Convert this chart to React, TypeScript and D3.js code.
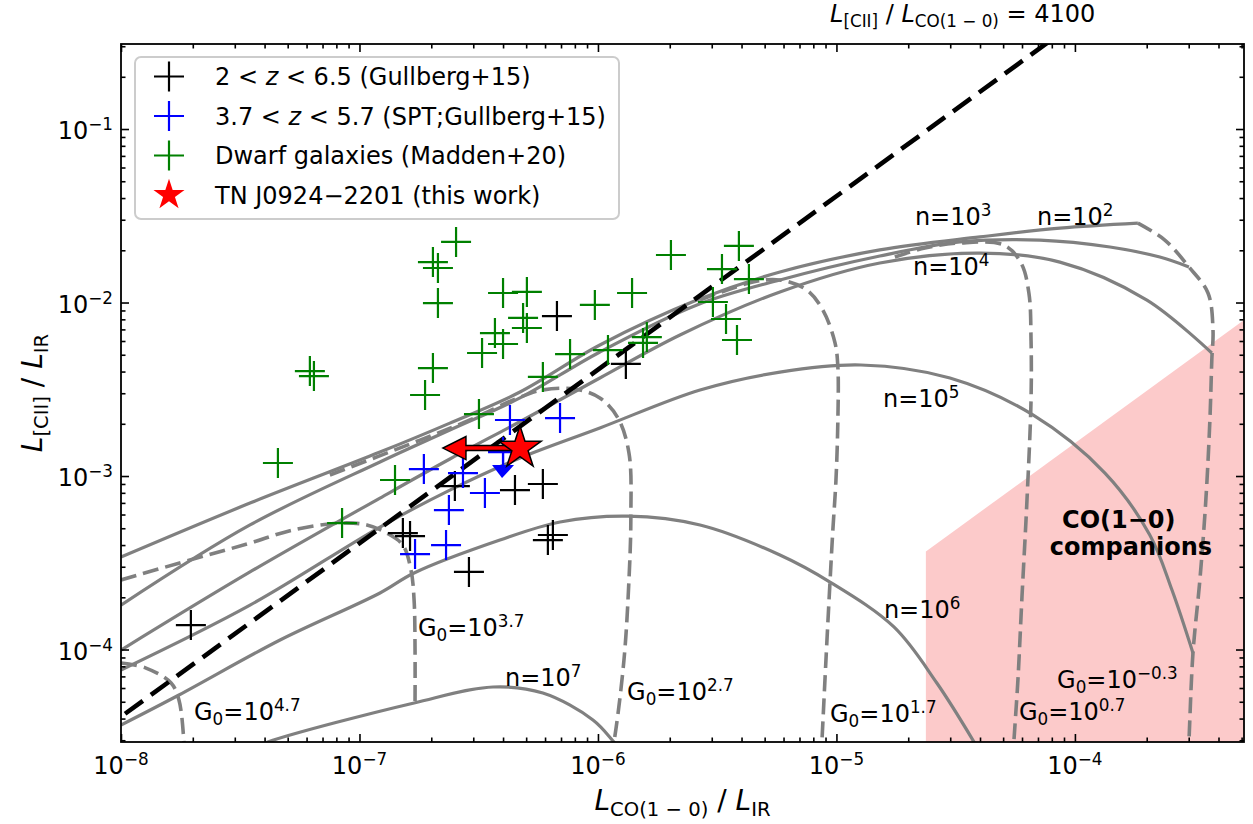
import React, { useEffect, useRef } from "react";
import * as d3 from "d3";

// all values are log10 : [ L_CO(1-0)/L_IR , L_[CII]/L_IR ]
type Pt = [number, number];

const gullberg: Pt[] = [
  [-7.707, -3.859], [-6.818, -3.329], [-6.788, -3.346], [-6.6, -3.058],
  [-6.348, -3.081], [-6.231, -3.046], [-6.541, -3.553], [-6.21, -3.369],
  [-6.189, -3.34], [-6.172, -2.078], [-5.883, -2.354],
];

const spt: Pt[] = [
  [-6.369, -2.677], [-6.159, -2.666], [-6.73, -2.96], [-6.566, -2.983],
  [-6.474, -3.098], [-6.625, -3.196], [-6.637, -3.398], [-6.767, -3.45],
];
const sptUpperLimits: Pt[] = [[-6.398, -2.862]];

const dwarfs: Pt[] = [
  [-7.342, -2.925], [-7.208, -2.395], [-7.191, -2.424], [-6.595, -1.651],
  [-6.692, -1.767], [-6.671, -1.801], [-6.671, -2.003], [-6.692, -2.378],
  [-6.725, -2.533], [-6.432, -2.176], [-6.398, -2.239], [-6.486, -2.291],
  [-6.499, -2.643], [-6.851, -3.023], [-7.073, -3.271], [-6.398, -1.945],
  [-6.298, -1.939], [-6.314, -2.089], [-6.298, -2.147], [-6.013, -2.014],
  [-5.857, -1.945], [-5.694, -1.726], [-6.117, -2.297], [-6.231, -2.429],
  [-5.958, -2.274], [-5.811, -2.233], [-5.795, -2.199], [-5.409, -1.674],
  [-5.48, -1.807], [-5.367, -1.865], [-5.518, -1.997], [-5.463, -2.095],
  [-5.417, -2.216],
];

const tnJ0924: Pt = [-6.327, -2.839];
const tnJ0924LimitTip = -6.65; // CO upper limit arrow end

const ciiCoRatio = 4100;
const companionsMinX = -4.625;
const companionsLogRatio = 1.19;

// PDR grid, constant density (solid)
const nDens2: Pt[] = [[-8.0, -3.467], [-7.459, -3.156], [-6.914, -2.862], [-6.621, -2.695], [-6.327, -2.516], [-5.992, -2.245], [-5.585, -1.986], [-5.237, -1.824], [-4.818, -1.697], [-4.398, -1.622], [-4.063, -1.571], [-3.736, -1.542]];
const nDens3: Pt[] = [[-8.0, -3.744], [-7.459, -3.282], [-6.914, -2.919], [-6.621, -2.735], [-6.327, -2.55], [-5.992, -2.285], [-5.585, -2.014], [-5.237, -1.87], [-4.818, -1.732], [-4.482, -1.651], [-4.147, -1.64], [-3.853, -1.68], [-3.644, -1.738], [-3.522, -1.795]];
const nDens4: Pt[] = [[-8.0, -4.003], [-7.459, -3.553], [-6.914, -3.127], [-6.621, -2.902], [-6.314, -2.677], [-5.992, -2.435], [-5.656, -2.187], [-5.237, -1.939], [-4.818, -1.772], [-4.398, -1.715], [-4.063, -1.767], [-3.698, -1.986], [-3.426, -2.291]];
const nDens5: Pt[] = [[-8.0, -4.118], [-7.459, -3.744], [-6.914, -3.294], [-6.621, -3.081], [-6.327, -2.896], [-5.992, -2.723], [-5.572, -2.504], [-5.237, -2.401], [-4.897, -2.36], [-4.524, -2.435], [-4.176, -2.648], [-3.874, -2.983], [-3.686, -3.34], [-3.593, -3.657], [-3.505, -4.02]];
const nDens6: Pt[] = [[-8.0, -4.435], [-7.757, -4.262], [-7.333, -3.945], [-6.914, -3.674], [-6.771, -3.559], [-6.411, -3.369], [-6.159, -3.265], [-5.874, -3.231], [-5.572, -3.282], [-5.237, -3.455], [-5.027, -3.611], [-4.759, -3.87], [-4.579, -4.193], [-4.423, -4.533], [-4.356, -4.695]];
const nDens7: Pt[] = [[-7.459, -4.579], [-7.384, -4.533], [-6.771, -4.308], [-6.44, -4.216], [-6.231, -4.251], [-6.021, -4.406], [-5.933, -4.533], [-5.887, -4.608]];

// PDR grid, constant G0 (dashed)
const g0m03: Pt[] = [[-3.736, -1.542], [-3.623, -1.64], [-3.522, -1.795], [-3.442, -1.945], [-3.421, -2.159], [-3.426, -2.331], [-3.434, -2.677], [-3.451, -3.138], [-3.476, -3.599], [-3.505, -4.02], [-3.522, -4.533], [-3.526, -4.637]];
const g0p07: Pt[] = [[-4.755, -1.738], [-4.629, -1.686], [-4.482, -1.657], [-4.298, -1.669], [-4.226, -1.772], [-4.193, -1.945], [-4.184, -2.216], [-4.184, -2.562], [-4.201, -3.138], [-4.222, -3.697], [-4.239, -4.176], [-4.256, -4.533], [-4.26, -4.637]];
const g0p17: Pt[] = [[-5.572, -1.986], [-5.35, -1.882], [-5.237, -1.87], [-5.124, -1.928], [-5.057, -2.043], [-5.006, -2.233], [-4.994, -2.372], [-4.994, -2.677], [-5.002, -3.023], [-5.015, -3.311], [-5.027, -3.611], [-5.044, -4.061], [-5.061, -4.533], [-5.065, -4.637]];
const g0p27: Pt[] = [[-7.124, -2.994], [-6.746, -2.793], [-6.537, -2.677], [-6.335, -2.55], [-6.231, -2.504], [-6.096, -2.499], [-5.992, -2.55], [-5.916, -2.666], [-5.87, -2.867], [-5.862, -3.231], [-5.87, -3.599], [-5.891, -4.061], [-5.933, -4.533], [-5.95, -4.637]];
const g0p37: Pt[] = [[-8.0, -3.599], [-7.711, -3.484], [-7.472, -3.392], [-7.279, -3.311], [-7.082, -3.271], [-6.969, -3.282], [-6.885, -3.329], [-6.818, -3.398], [-6.784, -3.542], [-6.771, -3.715], [-6.767, -4.003], [-6.767, -4.308]];
const g0p47: Pt[] = [[-8.0, -4.078], [-7.895, -4.107], [-7.79, -4.193], [-7.757, -4.291], [-7.736, -4.533], [-7.732, -4.637]];

const densityLabels = [
  { exp: "3", at: [-4.671, -1.553] as Pt },
  { exp: "2", at: [-4.159, -1.553] as Pt },
  { exp: "4", at: [-4.679, -1.841] as Pt },
  { exp: "5", at: [-4.805, -2.602] as Pt },
  { exp: "6", at: [-4.801, -3.818] as Pt },
  { exp: "7", at: [-6.39, -4.21] as Pt },
];
const g0Labels = [
  { exp: "4.7", at: [-7.694, -4.406] as Pt },
  { exp: "3.7", at: [-6.755, -3.922] as Pt },
  { exp: "2.7", at: [-5.878, -4.291] as Pt },
  { exp: "1.7", at: [-5.027, -4.418] as Pt },
  { exp: "0.7", at: [-4.235, -4.406] as Pt },
  { exp: "\u22120.3", at: [-4.075, -4.222] as Pt },
];

const xTickExps = [-8, -7, -6, -5, -4];
const yTickExps = [-4, -3, -2, -1];

const FONT = "DejaVu Sans, Liberation Sans, sans-serif";
const W = 1253;
const H = 824;

type Seg = { t: string; k?: "sub" | "sup" | "it" };

const addRich = (
  parent: any,
  x: number,
  y: number,
  segs: Seg[],
  size: number,
  anchor = "start",
  weight = "normal"
) => {
  const t = parent
    .append("text")
    .attr("x", x)
    .attr("y", y)
    .attr("font-family", FONT)
    .attr("font-size", size)
    .attr("font-weight", weight)
    .attr("text-anchor", anchor)
    .style("white-space", "pre");
  let cur = 0;
  segs.forEach((s) => {
    const shift = s.k === "sub" ? size * 0.22 : s.k === "sup" ? -size * 0.36 : 0;
    const fs = s.k === "sub" || s.k === "sup" ? size * 0.7 : size;
    t.append("tspan")
      .attr("dy", shift - cur)
      .attr("font-size", fs)
      .attr("font-style", s.k === "it" ? "italic" : "normal")
      .text(s.t);
    cur = shift;
  });
  return t;
};

export default function App() {
  const ref = useRef<SVGSVGElement>(null);

  useEffect(() => {
    draw();
  }, []);

  const draw = () => {
    const svg = d3.select(ref.current);
    svg.selectAll("*").remove();

    const left = 121, right = 1244, top = 44, bottom = 742;
    const x = d3.scaleLog().domain([1e-8, 10 ** -3.291]).range([left, right]);
    const y = d3.scaleLog().domain([10 ** -4.533, 10 ** -0.51]).range([bottom, top]);
    const px = (d: Pt) => x(10 ** d[0]);
    const py = (d: Pt) => y(10 ** d[1]);

    svg.append("rect").attr("width", W).attr("height", H).attr("fill", "#fff");

    svg
      .append("defs")
      .append("clipPath")
      .attr("id", "plotClip")
      .append("rect")
      .attr("x", left)
      .attr("y", top)
      .attr("width", right - left)
      .attr("height", bottom - top);

    const plot = svg.append("g").attr("clip-path", "url(#plotClip)");

    // CO(1-0) companions region
    const xEnd = -3.0;
    const companions: Pt[] = [
      [companionsMinX, -5],
      [companionsMinX, companionsMinX + companionsLogRatio],
      [xEnd, xEnd + companionsLogRatio],
      [xEnd, -5],
    ];
    plot
      .append("path")
      .attr("d", d3.line<Pt>().x(px).y(py)(companions) + "Z")
      .attr("fill", "rgb(252,202,202)");

    const curve = d3.line<Pt>().x(px).y(py).curve(d3.curveCatmullRom.alpha(0.5));

    [g0m03, g0p07, g0p17, g0p27, g0p37, g0p47].forEach((c) => {
      plot
        .append("path")
        .attr("d", curve(c))
        .attr("fill", "none")
        .attr("stroke", "gray")
        .attr("stroke-width", 3.6)
        .attr("stroke-dasharray", "16,7");
    });
    [nDens2, nDens3, nDens4, nDens5, nDens6, nDens7].forEach((c) => {
      plot
        .append("path")
        .attr("d", curve(c))
        .attr("fill", "none")
        .attr("stroke", "gray")
        .attr("stroke-width", 3.2);
    });

    // L[CII]/L_CO = 4100
    const ratioLine: Pt[] = [-8.2, -3.0].map((lx) => [lx, lx + Math.log10(ciiCoRatio)] as Pt);
    plot
      .append("path")
      .attr("d", d3.line<Pt>().x(px).y(py)(ratioLine))
      .attr("stroke", "black")
      .attr("stroke-width", 4.6)
      .attr("stroke-dasharray", "22,10")
      .attr("fill", "none");

    const cross = "M-15,0H15M0,-15V15";
    const drawCrosses = (pts: Pt[], color: string) => {
      plot
        .append("g")
        .selectAll("path")
        .data(pts)
        .enter()
        .append("path")
        .attr("d", cross)
        .attr("transform", (d) => `translate(${px(d)},${py(d)})`)
        .attr("stroke", color)
        .attr("stroke-width", 2.2)
        .attr("fill", "none");
    };
    drawCrosses(dwarfs, "green");
    drawCrosses(gullberg, "black");
    drawCrosses(spt, "blue");
    drawCrosses(sptUpperLimits, "blue");
    sptUpperLimits.forEach((d) => {
      const cx = px(d), cy = py(d);
      plot.append("line").attr("x1", cx).attr("x2", cx).attr("y1", cy).attr("y2", cy + 18)
        .attr("stroke", "blue").attr("stroke-width", 2.2);
      plot.append("path")
        .attr("d", `M${cx - 11},${cy + 13}L${cx + 11},${cy + 13}L${cx - 1},${cy + 26}Z`)
        .attr("fill", "blue");
    });

    // this work: star + CO upper-limit arrow
    const sx = px(tnJ0924), sy = py(tnJ0924);
    const tipX = x(10 ** tnJ0924LimitTip);
    plot.append("path")
      .attr("d", `M${sx},${sy - 2.5}L${tipX + 23},${sy - 2.5}L${tipX + 23},${sy - 11.5}L${tipX},${sy}L${tipX + 23},${sy + 11.5}L${tipX + 23},${sy + 2.5}L${sx},${sy + 2.5}Z`)
      .attr("fill", "red")
      .attr("stroke", "black")
      .attr("stroke-width", 1.5);
    plot.append("path")
      .attr("d", d3.symbol(d3.symbolStar, 560)())
      .attr("transform", `translate(${sx},${sy})`)
      .attr("fill", "red")
      .attr("stroke", "black")
      .attr("stroke-width", 1.5);

    // curve labels
    densityLabels.forEach((l) => {
      addRich(svg, px(l.at), py(l.at), [{ t: "n=10" }, { t: l.exp, k: "sup" }], 24);
    });
    g0Labels.forEach((l) => {
      addRich(svg, px(l.at), py(l.at), [{ t: "G" }, { t: "0", k: "sub" }, { t: "=10" }, { t: l.exp, k: "sup" }], 24);
    });
    addRich(svg, x(10 ** -3.816), y(10 ** -3.3), [{ t: "CO(1\u22120)" }], 24, "middle", "bold");
    addRich(svg, x(10 ** -3.765), y(10 ** -3.455), [{ t: "companions" }], 24, "middle", "bold");

    // axes: ticks inward on all four sides
    const minors = (lo: number, hi: number) => {
      const out: number[] = [];
      for (let e = lo; e <= hi; e++) for (let m = 2; m <= 9; m++) out.push(m * 10 ** e);
      return out;
    };
    const xMaj = xTickExps.map((e) => 10 ** e);
    const yMaj = yTickExps.map((e) => 10 ** e);
    const xMin = minors(-8, -4).filter((v) => v <= x.domain()[1]);
    const yMin = minors(-5, -1).filter((v) => v >= y.domain()[0] && v <= y.domain()[1]);

    const styleAxis = (g: any) => {
      g.select(".domain").remove();
      g.selectAll("line").attr("stroke-width", 1.6);
      g.selectAll("text").remove();
    };
    const axes = [
      { a: d3.axisBottom(x), t: `translate(0,${bottom})`, maj: xMaj, min: xMin },
      { a: d3.axisTop(x), t: `translate(0,${top})`, maj: xMaj, min: xMin },
      { a: d3.axisLeft(y), t: `translate(${left},0)`, maj: yMaj, min: yMin },
      { a: d3.axisRight(y), t: `translate(${right},0)`, maj: yMaj, min: yMin },
    ];
    axes.forEach(({ a, t, maj, min }) => {
      svg.append("g").attr("transform", t).call(a.tickValues(maj).tickSizeInner(-8).tickSizeOuter(0) as any).call(styleAxis);
      svg.append("g").attr("transform", t).call(a.tickValues(min).tickSizeInner(-4.5).tickSizeOuter(0) as any).call(styleAxis);
    });

    svg.append("rect")
      .attr("x", left).attr("y", top).attr("width", right - left).attr("height", bottom - top)
      .attr("fill", "none").attr("stroke", "black").attr("stroke-width", 1.8);

    xTickExps.forEach((e) => {
      addRich(svg, x(10 ** e), 774, [{ t: "10" }, { t: `\u2212${-e}`, k: "sup" }], 24, "middle");
    });
    yTickExps.forEach((e) => {
      addRich(svg, 113, y(10 ** e) + 10, [{ t: "10" }, { t: `\u2212${-e}`, k: "sup" }], 24, "end");
    });

    // axis labels
    addRich(svg, (left + right) / 2, 810,
      [{ t: "L", k: "it" }, { t: "CO(1 \u2212 0)", k: "sub" }, { t: " / " }, { t: "L", k: "it" }, { t: "IR", k: "sub" }],
      28, "middle");
    const yl = svg.append("g").attr("transform", `translate(42,${(top + bottom) / 2}) rotate(-90)`);
    addRich(yl, 0, 0,
      [{ t: "L", k: "it" }, { t: "[CII]", k: "sub" }, { t: " / " }, { t: "L", k: "it" }, { t: "IR", k: "sub" }],
      28, "middle");

    addRich(svg, 830, 22,
      [{ t: "L", k: "it" }, { t: "[CII]", k: "sub" }, { t: " / " }, { t: "L", k: "it" }, { t: "CO(1 \u2212 0)", k: "sub" }, { t: " = 4100" }],
      24);

    // legend
    const lg = svg.append("g");
    lg.append("rect")
      .attr("x", 135).attr("y", 57).attr("width", 484).attr("height", 162).attr("rx", 6)
      .attr("fill", "white").attr("fill-opacity", 0.8)
      .attr("stroke", "#cccccc").attr("stroke-width", 2);
    const rows: { color: string; star?: boolean; segs: Seg[] }[] = [
      { color: "black", segs: [{ t: "2 < " }, { t: "z", k: "it" }, { t: " < 6.5 (Gullberg+15)" }] },
      { color: "blue", segs: [{ t: "3.7 < " }, { t: "z", k: "it" }, { t: " < 5.7 (SPT;Gullberg+15)" }] },
      { color: "green", segs: [{ t: "Dwarf galaxies (Madden+20)" }] },
      { color: "red", star: true, segs: [{ t: "TN J0924\u22122201 (this work)" }] },
    ];
    rows.forEach((r, i) => {
      const cy = 76.5 + i * 39.5;
      if (r.star) {
        lg.append("path").attr("d", d3.symbol(d3.symbolStar, 300)())
          .attr("transform", `translate(169,${cy})`).attr("fill", "red");
      } else {
        lg.append("path").attr("d", cross).attr("transform", `translate(169,${cy})`)
          .attr("stroke", r.color).attr("stroke-width", 2.2).attr("fill", "none");
      }
      addRich(lg, 215, cy + 8.5, r.segs, 24);
    });
  };

  return (
    <svg
      ref={ref}
      width={W}
      height={H}
      style={{ position: "absolute", left: 0, top: 0, display: "block" }}
    />
  );
}
